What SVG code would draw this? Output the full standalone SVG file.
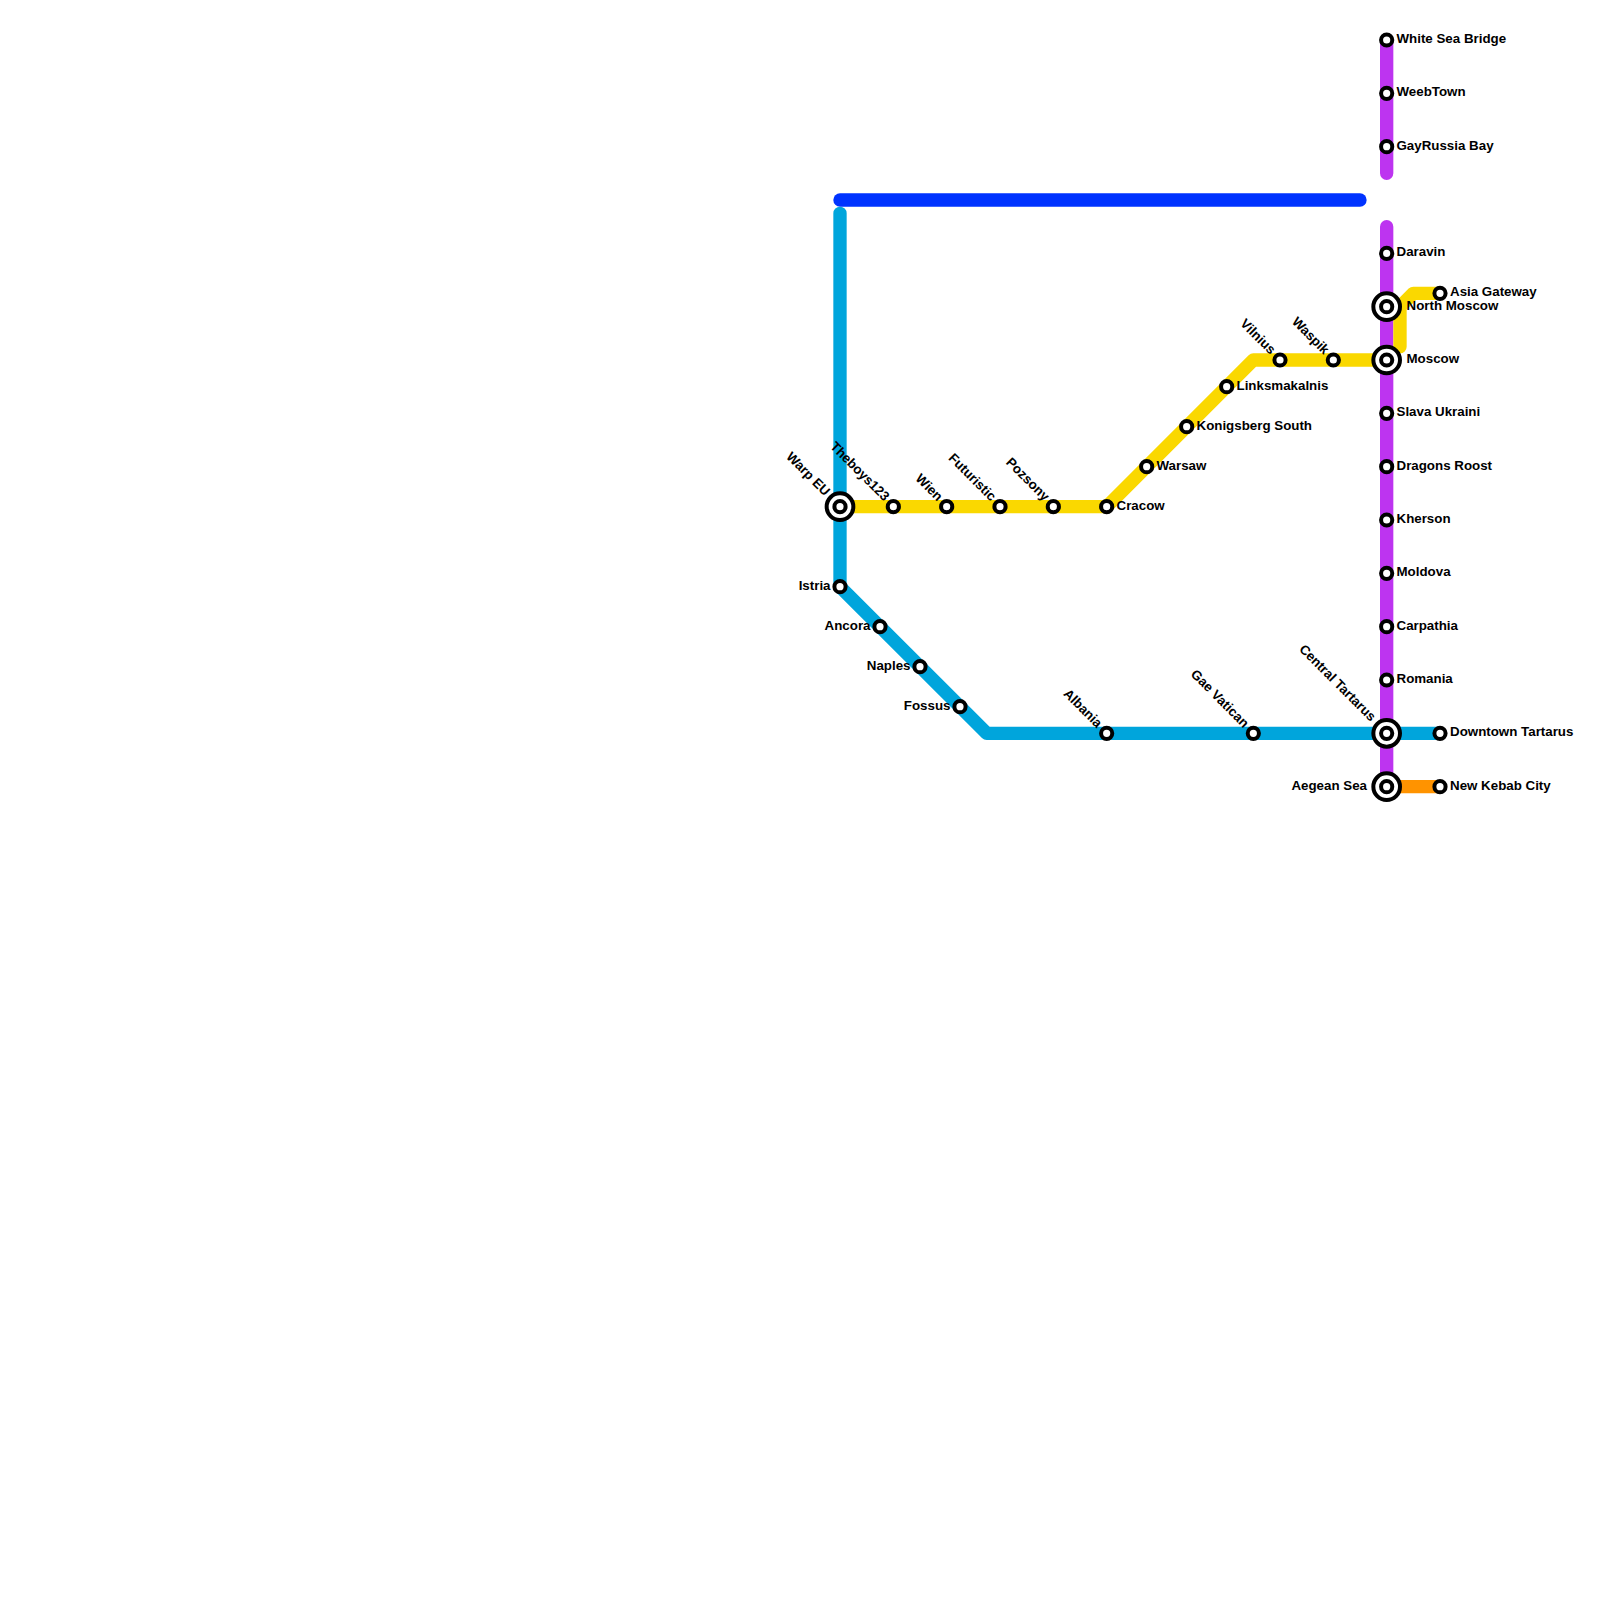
<svg xmlns="http://www.w3.org/2000/svg" width="1600" height="1600" viewBox="0 0 1600 1600">
<style>
.l{fill:none;stroke-width:13.33;stroke-linecap:round;stroke-linejoin:round}
.s{fill:#fff;stroke:#000;stroke-width:4}
.o{fill:#fff;stroke:#000;stroke-width:4}
text{font-family:"Liberation Sans",Arial,sans-serif;font-weight:700;font-size:13.33px;fill:#000;dominant-baseline:middle}
.e{text-anchor:end}
</style>
<rect width="1600" height="1600" fill="#fff"/>
<g id="connectors">
<path class="l" stroke="#0033ff" d="M840 200H1360"/>
<path class="l" stroke="#bd34f0" d="M1386.67 40V173.33M1386.67 226.67V786.67"/>
<path class="l" stroke="#00a5dc" d="M840 213.33V586.67L986.67 733.33H1440"/>
<path class="l" stroke="#fad800" d="M840 506.67H1106.67L1253.33 360H1386.67"/>
<path class="l" stroke="#fad800" d="M1400 346.67V306.67L1413.33 293.33H1440"/>
<path class="l" stroke="#ff9300" d="M1386.67 786.67H1440"/>
</g>
<g id="n-white-sea"><circle class="s" cx="1386.67" cy="40" r="5.6"/><text x="1396.5" y="39.3">White Sea Bridge</text></g>
<g id="n-weebtown"><circle class="s" cx="1386.67" cy="93.33" r="5.6"/><text x="1396.5" y="92.7">WeebTown</text></g>
<g id="n-gayrussia"><circle class="s" cx="1386.67" cy="146.67" r="5.6"/><text x="1396.5" y="146">GayRussia Bay</text></g>
<g id="n-daravin"><circle class="s" cx="1386.67" cy="253.33" r="5.6"/><text x="1396.5" y="252.7">Daravin</text></g>
<g id="n-north-moscow"><circle class="o" cx="1386.67" cy="306.67" r="13.33"/><circle class="s" cx="1386.67" cy="306.67" r="5.6"/><text x="1406.5" y="306">North Moscow</text></g>
<g id="n-asia"><circle class="s" cx="1440" cy="293.33" r="5.6"/><text x="1450" y="292.7">Asia Gateway</text></g>
<g id="n-moscow"><circle class="o" cx="1386.67" cy="360" r="13.33"/><circle class="s" cx="1386.67" cy="360" r="5.6"/><text x="1406.5" y="359.3">Moscow</text></g>
<g id="n-slava"><circle class="s" cx="1386.67" cy="413.33" r="5.6"/><text x="1396.5" y="412.7">Slava Ukraini</text></g>
<g id="n-dragons"><circle class="s" cx="1386.67" cy="466.67" r="5.6"/><text x="1396.5" y="466">Dragons Roost</text></g>
<g id="n-kherson"><circle class="s" cx="1386.67" cy="520" r="5.6"/><text x="1396.5" y="519.3">Kherson</text></g>
<g id="n-moldova"><circle class="s" cx="1386.67" cy="573.33" r="5.6"/><text x="1396.5" y="572.7">Moldova</text></g>
<g id="n-carpathia"><circle class="s" cx="1386.67" cy="626.67" r="5.6"/><text x="1396.5" y="626">Carpathia</text></g>
<g id="n-romania"><circle class="s" cx="1386.67" cy="680" r="5.6"/><text x="1396.5" y="679.3">Romania</text></g>
<g id="n-central-tartarus"><circle class="o" cx="1386.67" cy="733.33" r="13.33"/><circle class="s" cx="1386.67" cy="733.33" r="5.6"/><text class="e" transform="translate(1373 719.5) rotate(45)">Central Tartarus</text></g>
<g id="n-downtown"><circle class="s" cx="1440" cy="733.33" r="5.6"/><text x="1450" y="732.7">Downtown Tartarus</text></g>
<g id="n-aegean"><circle class="o" cx="1386.67" cy="786.67" r="13.33"/><circle class="s" cx="1386.67" cy="786.67" r="5.6"/><text class="e" x="1367" y="786">Aegean Sea</text></g>
<g id="n-kebab"><circle class="s" cx="1440" cy="786.67" r="5.6"/><text x="1450" y="786">New Kebab City</text></g>
<g id="n-warp"><circle class="o" cx="840" cy="506.67" r="13.33"/><circle class="s" cx="840" cy="506.67" r="5.6"/><text class="e" transform="translate(827 494) rotate(45)">Warp EU</text></g>
<g id="n-theboys"><circle class="s" cx="893.33" cy="506.67" r="5.6"/><text class="e" transform="translate(886.5 499.3) rotate(45)">Theboys123</text></g>
<g id="n-wien"><circle class="s" cx="946.67" cy="506.67" r="5.6"/><text class="e" transform="translate(939.8 499.3) rotate(45)">Wien</text></g>
<g id="n-futuristic"><circle class="s" cx="1000" cy="506.67" r="5.6"/><text class="e" transform="translate(993.2 499.3) rotate(45)">Futuristic</text></g>
<g id="n-pozsony"><circle class="s" cx="1053.33" cy="506.67" r="5.6"/><text class="e" transform="translate(1046.5 499.3) rotate(45)">Pozsony</text></g>
<g id="n-cracow"><circle class="s" cx="1106.67" cy="506.67" r="5.6"/><text x="1116.5" y="506">Cracow</text></g>
<g id="n-warsaw"><circle class="s" cx="1146.67" cy="466.67" r="5.6"/><text x="1156.5" y="466">Warsaw</text></g>
<g id="n-konigsberg"><circle class="s" cx="1186.67" cy="426.67" r="5.6"/><text x="1196.5" y="426">Konigsberg South</text></g>
<g id="n-linksmakalnis"><circle class="s" cx="1226.67" cy="386.67" r="5.6"/><text x="1236.5" y="386">Linksmakalnis</text></g>
<g id="n-vilnius"><circle class="s" cx="1280" cy="360" r="5.6"/><text class="e" transform="translate(1272.7 352.6) rotate(45)">Vilnius</text></g>
<g id="n-waspik"><circle class="s" cx="1333.33" cy="360" r="5.6"/><text class="e" transform="translate(1326.3 352.6) rotate(45)">Waspik</text></g>
<g id="n-istria"><circle class="s" cx="840" cy="586.67" r="5.6"/><text class="e" x="830.5" y="586">Istria</text></g>
<g id="n-ancora"><circle class="s" cx="880" cy="626.67" r="5.6"/><text class="e" x="870.5" y="626">Ancora</text></g>
<g id="n-naples"><circle class="s" cx="920" cy="666.67" r="5.6"/><text class="e" x="910.5" y="666">Naples</text></g>
<g id="n-fossus"><circle class="s" cx="960" cy="706.67" r="5.6"/><text class="e" x="950.5" y="706">Fossus</text></g>
<g id="n-albania"><circle class="s" cx="1106.67" cy="733.33" r="5.6"/><text class="e" transform="translate(1099.3 726) rotate(45)">Albania</text></g>
<g id="n-gae"><circle class="s" cx="1253.33" cy="733.33" r="5.6"/><text class="e" transform="translate(1246 726) rotate(45)">Gae Vatican</text></g>
</svg>
